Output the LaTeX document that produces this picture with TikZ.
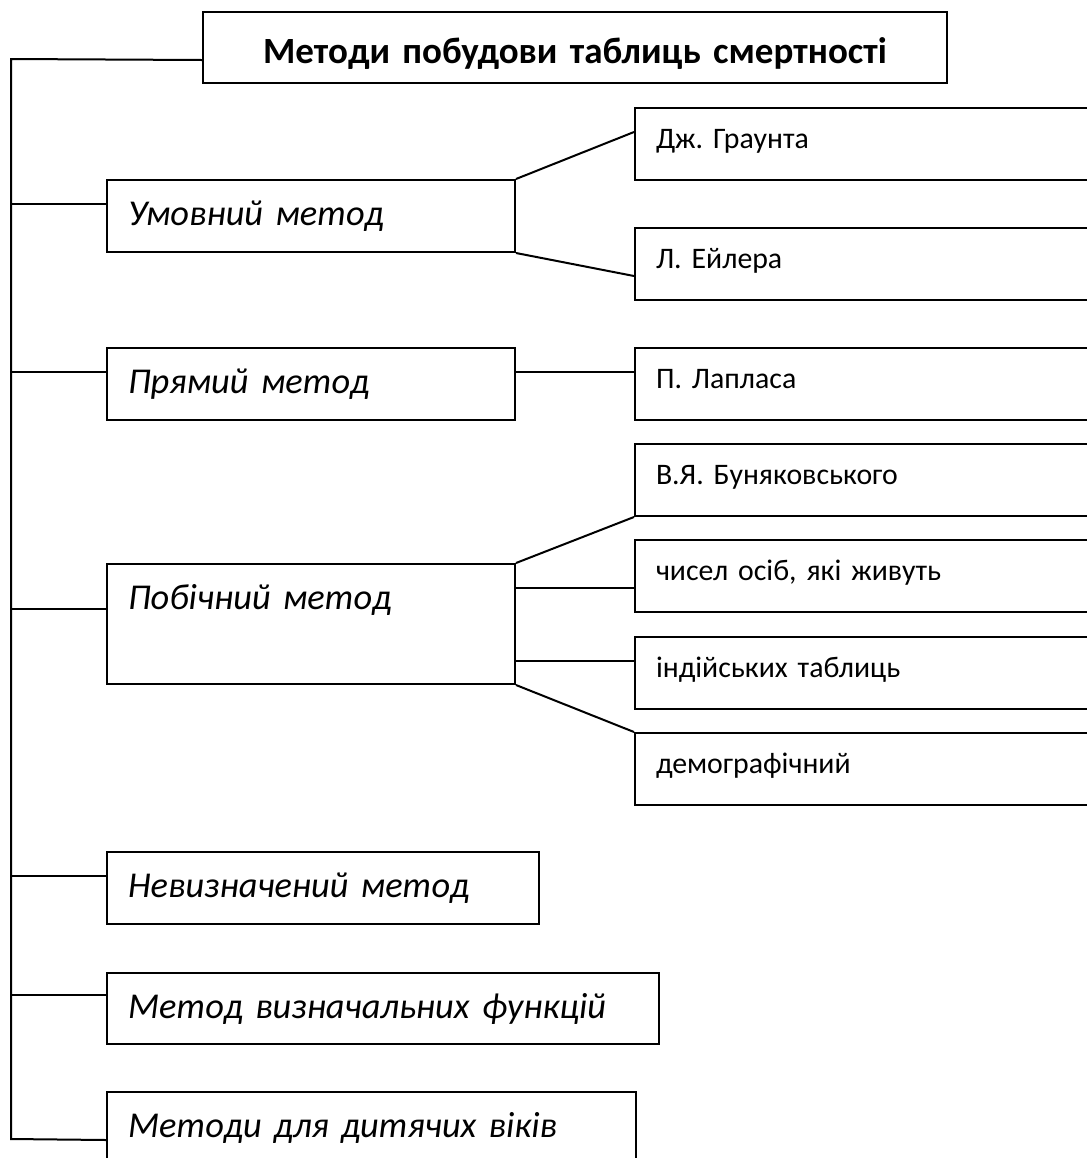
\documentclass[tikz,border=0pt]{standalone}
\usepackage{fontspec}
\setmainfont[WordSpace=0.75]{Carlito}
\frenchspacing
\usetikzlibrary{positioning,calc}
\tikzset{
    basebox/.style={
        draw,
        rectangle,
        line width=1pt,
        anchor=north west,
        inner xsep=10.5pt,
        inner ysep=0pt,
        align=left
    },
    titlebox/.style={
        basebox,
        align=center,
        font=\fontsize{18.5}{21}\selectfont\bfseries,
        text height=25.5pt,
        text depth=10pt
    },
    methodbox/.style={
        basebox,
        font=\fontsize{18.2}{21}\selectfont\itshape,
        text height=22.5pt
    },
    sourcebox/.style={
        basebox,
        font=\fontsize{14.9}{17}\selectfont,
        text height=20pt,
        text depth=16pt,
        text width=209pt
    },
    link/.style={
        line width=1pt
    }
}

\begin{document}
\begin{tikzpicture}[x=0.5pt,y=-0.5pt]
        \useasboundingbox (0,0) rectangle (1087,1158);

        % Title
        \node[titlebox, text width=351pt] (title) at (202,11) {Методи побудови таблиць смертності};

        % Methods
        \node[methodbox, text width=183pt, text depth=13.5pt] (umov) at (106,179) {Умовний метод};
        \node[methodbox, text width=183pt, text depth=13.5pt] (pryam) at (106,347) {Прямий метод};
        \node[methodbox, text width=183pt, text depth=37.5pt] (pobich) at (106,563) {Побічний метод};
        \node[methodbox, text width=195pt, text depth=13.5pt] (nevyz) at (106,851) {Невизначений метод};
        \node[methodbox, text width=255pt, text depth=13pt] (vyzn) at (106,972) {Метод визначальних функцій};
        \node[methodbox, text width=243.5pt, text depth=25.5pt] (dyt) at (106,1091) {Методи для дитячих віків};

        % Authors and variants
        \node[sourcebox] (graunt) at (634,107) {Дж. Граунта};
        \node[sourcebox] (eiler) at (634,227) {Л. Ейлера};
        \node[sourcebox] (laplas) at (634,347) {П. Лапласа};
        \node[sourcebox] (bunyak) at (634,443) {В.Я. Буняковського};
        \node[sourcebox] (chysel) at (634,539) {чисел осіб, які живуть};
        \node[sourcebox] (indian) at (634,636) {індійських таблиць};
        \node[sourcebox] (demog) at (634,732) {демографічний};

        % Trunk on the left
        \coordinate (trunktop) at (11,59);
        \coordinate (trunkbot) at (11,1139);
        \draw[link] ([yshift=-6.25pt]title.west) -- (trunktop) -- (trunkbot) -- (dyt.west);
        \foreach \n/\dy in {umov/6pt, pryam/6pt, pobich/7.5pt, nevyz/6pt, vyzn/6.75pt}
            \draw[link] ([yshift=\dy]\n.west) -- ++(-95,0);

        % Right side connections
        \draw[link] (umov.north east) -- ([yshift=-12.5pt]graunt.north west);
        \draw[link] (umov.south east) -- ([yshift=12.5pt]eiler.south west);
        \draw[link] ([yshift=6pt]pryam.east) -- ([yshift=6pt]laplas.west);
        \draw[link] (pobich.north east) -- (bunyak.south west);
        \draw[link] ([yshift=-6pt]chysel.west) -- ++(-120,0);
        \draw[link] ([yshift=6.25pt]indian.west) -- ++(-120,0);
        \draw[link] (pobich.south east) -- (demog.north west);
    \end{tikzpicture}
\end{document}
